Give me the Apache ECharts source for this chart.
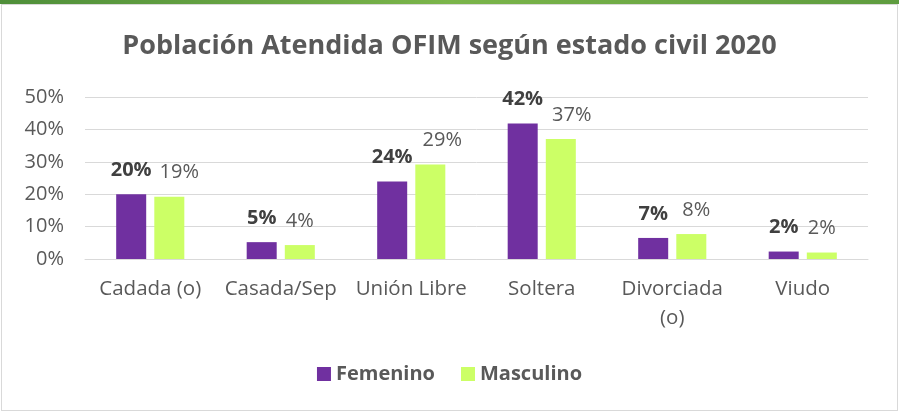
<!DOCTYPE html>
<html>
<head>
<meta charset="utf-8">
<script src="https://cdn.jsdelivr.net/npm/echarts@6/dist/echarts.min.js"></script>
<style>
  html, body { margin: 0; padding: 0; background: #fff; }
  #topbar { position: absolute; left: 0; top: 0; width: 899px; height: 4px;
    background: linear-gradient(to right, #4f8f3a, #7bb54a 50%, #5e9c3f); }
  #main { position: absolute; left: 1px; top: 4px; width: 895px; height: 405px;
    border: 1px solid #d9d9d9; }
</style>
</head>
<body>
<div id="topbar"></div>
<div id="main"></div>
<script>
const categories = ['Cadada (o)', 'Casada/Sep', 'Unión Libre', 'Soltera', 'Divorciada\n(o)', 'Viudo']
const femenino = [20, 5.2, 23.9, 41.8, 6.5, 2.3]
const masculino = [19.2, 4.3, 29.2, 37, 7.7, 2.0]
const femeninoLabels = ['20%', '5%', '24%', '42%', '7%', '2%']
const masculinoLabels = ['19%', '4%', '29%', '37%', '8%', '2%']
const yTicks = [0, 10, 20, 30, 40, 50]

// desplazamiento horizontal de las etiquetas de Masculino (como en el original)
const mascShift = [10, 0, 12, 11, 5, 0]

const chart = echarts.init(document.getElementById('main'))
const font = 'Open Sans'
const gray = '#595959'

const option = {
  animation: false,
  title: {
    text: 'Población Atendida OFIM según estado civil 2020',
    left: 'center',
    top: 23,
    textStyle: { fontFamily: font, fontWeight: 'bold', fontSize: 27, color: gray }
  },
  legend: {
    bottom: 21,
    left: 'center',
    itemWidth: 14,
    itemHeight: 14,
    itemGap: 26,
    icon: 'rect',
    textStyle: { fontFamily: font, fontWeight: 'bold', fontSize: 20, color: gray }
  },
  grid: { left: 83, right: 29, top: 92, bottom: 151 },
  xAxis: {
    type: 'category',
    data: categories,
    axisLine: { lineStyle: { color: '#d9d9d9', width: 1 } },
    axisTick: { show: false },
    axisLabel: { fontFamily: font, fontSize: 20.5, color: gray, margin: 16, lineHeight: 29, interval: 0 }
  },
  yAxis: {
    type: 'value',
    min: yTicks[0],
    max: yTicks[yTicks.length - 1],
    interval: 10,
    axisLabel: { formatter: '{value}%', fontFamily: font, fontSize: 20, color: gray, margin: 21 },
    splitLine: { lineStyle: { color: '#d9d9d9', width: 1 } }
  },
  series: [
    {
      name: 'Femenino',
      type: 'bar',
      data: femenino,
      barWidth: '23%',
      barGap: '27%',
      itemStyle: { color: '#7030a0' },
      label: {
        show: true,
        position: 'top',
        distance: 14,
        formatter: p => femeninoLabels[p.dataIndex],
        fontFamily: font, fontWeight: 'bold', fontSize: 20, color: '#404040'
      }
    },
    {
      name: 'Masculino',
      type: 'bar',
      data: masculino.map((v, i) => ({ value: v, label: { offset: [mascShift[i], 0] } })),
      barWidth: '23%',
      itemStyle: { color: '#ccff66' },
      label: {
        show: true,
        position: 'top',
        distance: 14,
        formatter: p => masculinoLabels[p.dataIndex],
        fontFamily: font, fontSize: 20, color: gray
      }
    }
  ]
}

chart.setOption(option)
</script>
</body>
</html>
